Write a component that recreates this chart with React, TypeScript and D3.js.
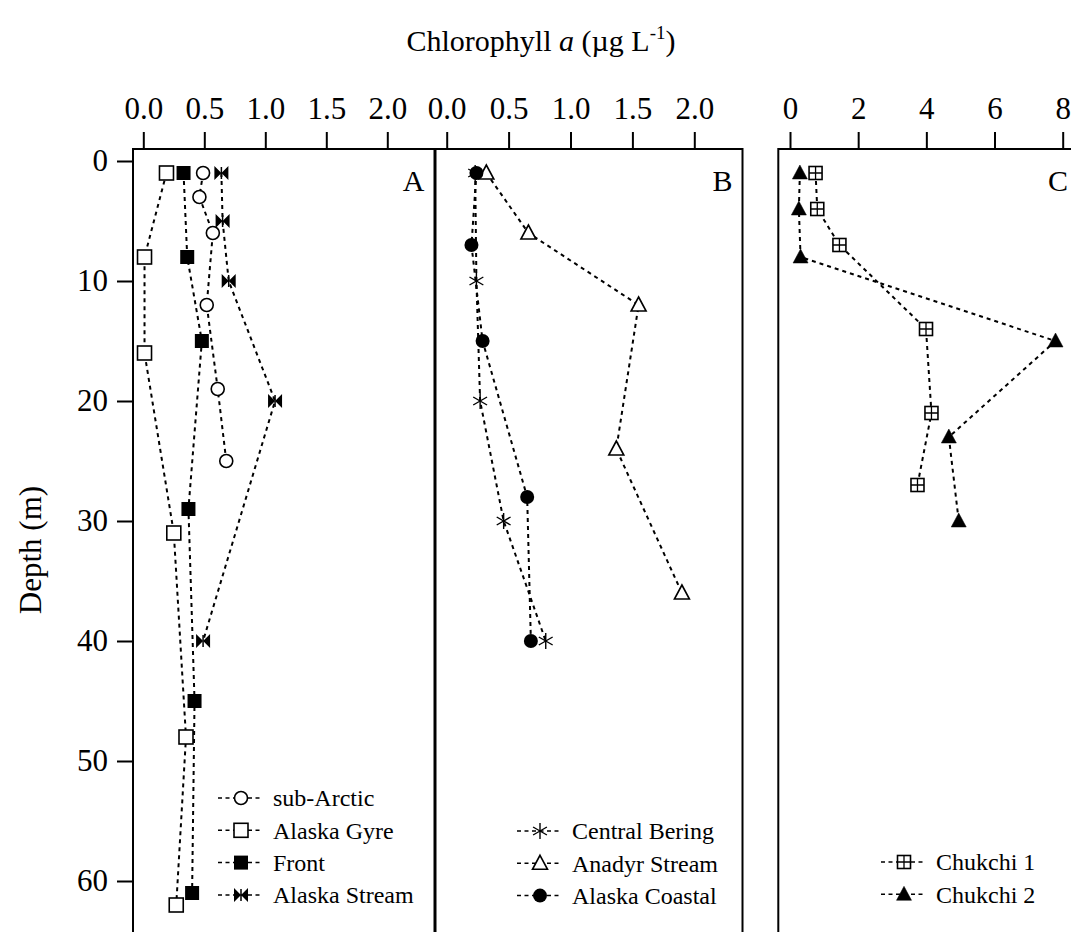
import React, { useEffect, useRef } from "react";
import * as d3 from "d3";

const W = 1071;
const H = 932;

// Panel A: depth (m) and chlorophyll a (ug/L)
const subArcticDepth = [1, 3, 6, 12, 19, 25];
const subArcticChl = [0.49, 0.46, 0.57, 0.52, 0.61, 0.68];
const gyreDepth = [1, 8, 16, 31, 48, 62];
const gyreChl = [0.19, 0.01, 0.01, 0.25, 0.35, 0.27];
const frontDepth = [1, 8, 15, 29, 45, 61];
const frontChl = [0.33, 0.36, 0.48, 0.37, 0.42, 0.4];
const streamDepth = [1, 5, 10, 20, 40];
const streamChl = [0.64, 0.65, 0.7, 1.08, 0.49];

// Panel B
const centralDepth = [1, 10, 20, 30, 40];
const centralChl = [0.23, 0.24, 0.27, 0.46, 0.8];
const anadyrDepth = [1, 6, 12, 24, 36];
const anadyrChl = [0.32, 0.66, 1.55, 1.37, 1.9];
const coastalDepth = [1, 7, 15, 28, 40];
const coastalChl = [0.24, 0.2, 0.29, 0.65, 0.68];

// Panel C
const chukchi1Depth = [1, 4, 7, 14, 21, 27];
const chukchi1Chl = [0.75, 0.8, 1.45, 3.99, 4.15, 3.74];
const chukchi2Depth = [1, 4, 8, 15, 23, 30];
const chukchi2Chl = [0.29, 0.26, 0.31, 7.79, 4.66, 4.95];

const ticksAB = [0, 0.5, 1, 1.5, 2];
const ticksC = [0, 2, 4, 6, 8];
const depthTicks = [0, 10, 20, 30, 40, 50, 60];

const FONT = "'Liberation Serif', 'Times New Roman', serif";

type Marker =
  | "circle"
  | "square"
  | "fsquare"
  | "bowtie"
  | "asterisk"
  | "triangle"
  | "fcircle"
  | "boxplus"
  | "ftriangle";

function drawMarker(g: any, type: Marker, x: number, y: number) {
  const m = g.append("g").attr("transform", `translate(${x},${y})`);
  const sw = 1.6;
  if (type === "circle") {
    m.append("circle").attr("r", 6.5).attr("fill", "#fff").attr("stroke", "#000").attr("stroke-width", sw);
  } else if (type === "fcircle") {
    m.append("circle").attr("r", 7).attr("fill", "#000");
  } else if (type === "square" || type === "fsquare") {
    m.append("rect")
      .attr("x", -7).attr("y", -7).attr("width", 14).attr("height", 14)
      .attr("fill", type === "square" ? "#fff" : "#000")
      .attr("stroke", "#000").attr("stroke-width", type === "square" ? sw : 0);
  } else if (type === "bowtie") {
    m.append("path").attr("d", "M-7,-7L0,0L-7,7Z M7,-7L0,0L7,7Z").attr("fill", "#000");
    m.append("line").attr("x1", 0).attr("x2", 0).attr("y1", -6).attr("y2", 6).attr("stroke", "#000").attr("stroke-width", 1.5);
  } else if (type === "asterisk") {
    const r = 8;
    [90, 30, -30].forEach((a) => {
      const t = (a * Math.PI) / 180;
      m.append("line")
        .attr("x1", -r * Math.cos(t)).attr("y1", -r * Math.sin(t))
        .attr("x2", r * Math.cos(t)).attr("y2", r * Math.sin(t))
        .attr("stroke", "#000").attr("stroke-width", 1.4);
    });
  } else if (type === "triangle" || type === "ftriangle") {
    m.append("path")
      .attr("d", "M0,-8L7.5,6L-7.5,6Z")
      .attr("fill", type === "triangle" ? "#fff" : "#000")
      .attr("stroke", "#000").attr("stroke-width", type === "triangle" ? sw : 0.5);
  } else if (type === "boxplus") {
    m.append("rect")
      .attr("x", -6.5).attr("y", -6.5).attr("width", 13).attr("height", 13)
      .attr("fill", "#fff").attr("stroke", "#000").attr("stroke-width", sw);
    m.append("path").attr("d", "M0,-6.5V6.5M-6.5,0H6.5").attr("stroke", "#000").attr("stroke-width", 1.3);
  }
}

export default function App() {
  const ref = useRef<SVGSVGElement | null>(null);

  useEffect(() => {
    const svg = d3.select(ref.current);
    svg.selectAll("*").remove();

    const top = 149;
    const bottom = 950;
    const y = d3.scaleLinear().domain([0, 60]).range([161, 881]);

    const panels = [
      {
        label: "A", left: 133, right: 434.5,
        x: d3.scaleLinear().domain([0, 2]).range([143.3, 387.3]),
        ticks: ticksAB, fmt: d3.format(".1f"),
        legendX: 218, legendY: 798,
        series: [
          { name: "sub-Arctic", depth: subArcticDepth, chl: subArcticChl, marker: "circle" as Marker },
          { name: "Alaska Gyre", depth: gyreDepth, chl: gyreChl, marker: "square" as Marker },
          { name: "Front", depth: frontDepth, chl: frontChl, marker: "fsquare" as Marker },
          { name: "Alaska Stream", depth: streamDepth, chl: streamChl, marker: "bowtie" as Marker },
        ],
      },
      {
        label: "B", left: 435.5, right: 742.5,
        x: d3.scaleLinear().domain([0, 2]).range([446.7, 694.3]),
        ticks: ticksAB, fmt: d3.format(".1f"),
        legendX: 517, legendY: 831,
        series: [
          { name: "Central Bering", depth: centralDepth, chl: centralChl, marker: "asterisk" as Marker },
          { name: "Anadyr Stream", depth: anadyrDepth, chl: anadyrChl, marker: "triangle" as Marker },
          { name: "Alaska Coastal", depth: coastalDepth, chl: coastalChl, marker: "fcircle" as Marker },
        ],
      },
      {
        label: "C", left: 778.3, right: 1085,
        x: d3.scaleLinear().domain([0, 8]).range([790, 1062.7]),
        ticks: ticksC, fmt: d3.format("d"),
        legendX: 881, legendY: 862,
        series: [
          { name: "Chukchi 1", depth: chukchi1Depth, chl: chukchi1Chl, marker: "boxplus" as Marker },
          { name: "Chukchi 2", depth: chukchi2Depth, chl: chukchi2Chl, marker: "ftriangle" as Marker },
        ],
      },
    ];

    panels.forEach((p) => {
      const g = svg.append("g");

      // frame
      g.append("rect")
        .attr("x", p.left).attr("y", top)
        .attr("width", p.right - p.left).attr("height", bottom - top)
        .attr("fill", "none").attr("stroke", "#000").attr("stroke-width", 2);

      // top axis
      const ax = g.append("g")
        .attr("transform", `translate(0,${top})`)
        .call(d3.axisTop(p.x).tickValues(p.ticks).tickFormat(p.fmt as any).tickSize(17).tickPadding(13).tickSizeOuter(0));
      ax.select(".domain").remove();
      ax.selectAll("line").attr("stroke-width", 2);
      ax.selectAll("text").attr("font-family", FONT).attr("font-size", 31).attr("fill", "#000");

      // panel letter
      g.append("text")
        .attr("x", p.right > W ? 1068 : p.right - 10).attr("y", 191)
        .attr("text-anchor", "end")
        .attr("font-family", FONT).attr("font-size", 30)
        .text(p.label);

      p.series.forEach((s) => {
        const pts = s.depth.map((d, i) => [p.x(s.chl[i]), y(d)] as [number, number]);
        g.append("path")
          .attr("d", d3.line()(pts))
          .attr("fill", "none").attr("stroke", "#000")
          .attr("stroke-width", 2).attr("stroke-dasharray", "4,4");
      });
      p.series.forEach((s) => {
        s.depth.forEach((d, i) => drawMarker(g, s.marker, p.x(s.chl[i]), y(d)));
      });

      // legend
      p.series.forEach((s, i) => {
        const ly = p.legendY + i * 32.3;
        g.append("line")
          .attr("x1", p.legendX).attr("x2", p.legendX + 44)
          .attr("y1", ly).attr("y2", ly)
          .attr("stroke", "#000").attr("stroke-width", 1.5).attr("stroke-dasharray", "4,3.5");
        drawMarker(g, s.marker, p.legendX + 23, ly);
        g.append("text")
          .attr("x", p.legendX + 55).attr("y", ly).attr("dy", "0.35em")
          .attr("font-family", FONT).attr("font-size", 24)
          .text(s.name);
      });
    });

    // depth axis
    const ay = svg.append("g")
      .attr("transform", `translate(133,0)`)
      .call(d3.axisLeft(y).tickValues(depthTicks).tickFormat(d3.format("d") as any).tickSize(16).tickPadding(9).tickSizeOuter(0));
    ay.select(".domain").remove();
    ay.selectAll("line").attr("stroke-width", 2);
    ay.selectAll("text").attr("font-family", FONT).attr("font-size", 31).attr("fill", "#000");

    // axis titles
    svg.append("text")
      .attr("transform", "translate(41,550) rotate(-90)")
      .attr("text-anchor", "middle")
      .attr("font-family", FONT).attr("font-size", 31)
      .text("Depth (m)");

    const t = svg.append("text")
      .attr("x", 541).attr("y", 51)
      .attr("text-anchor", "middle")
      .attr("font-family", FONT).attr("font-size", 30);
    t.append("tspan").text("Chlorophyll ");
    t.append("tspan").attr("font-style", "italic").text("a");
    t.append("tspan").text(" (\u00b5g L");
    t.append("tspan").attr("font-size", 19).attr("dy", -12).text("-1");
    t.append("tspan").attr("dy", 12).text(")");
  }, []);

  return (
    <svg
      ref={ref}
      width={W}
      height={H}
      style={{ position: "absolute", left: 0, top: 0, display: "block", background: "#fff" }}
    />
  );
}
